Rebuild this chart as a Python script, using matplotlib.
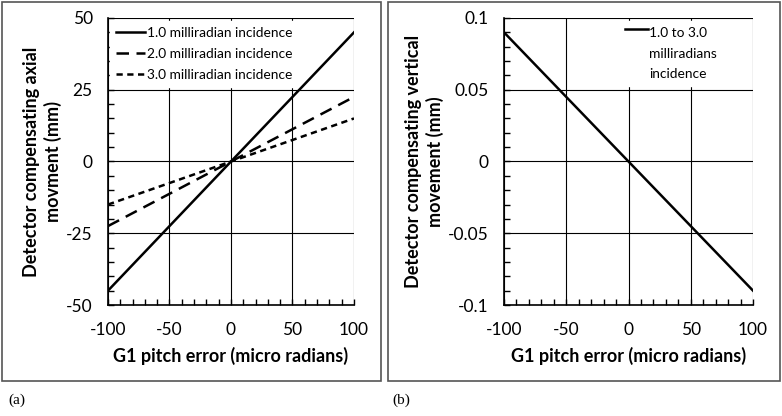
import matplotlib
matplotlib.use('Agg')
import matplotlib.pyplot as plt
from matplotlib.patches import Rectangle
from matplotlib.ticker import MultipleLocator, FuncFormatter

# data
pitch_error = [-100, -50, 0, 50, 100]
axial_1mrad = [-45, -22.5, 0, 22.5, 45]
axial_2mrad = [-22.5, -11.25, 0, 11.25, 22.5]
axial_3mrad = [-15, -7.5, 0, 7.5, 15]
vertical_all = [0.09, 0.045, 0, -0.045, -0.09]

plt.rcParams['font.family'] = ['Lato', 'DejaVu Sans']

fig = plt.figure(figsize=(7.82, 4.16), dpi=100)

# panel frames
for x0, w in [(2, 379), (388, 392)]:
    fig.patches.append(Rectangle((x0 / 782, 1 - 381 / 416), w / 782, 379 / 416,
                                 transform=fig.transFigure, fill=False,
                                 edgecolor='#555555', linewidth=1.2))

plain = FuncFormatter(lambda v, pos: '%g' % round(v, 6))


def style_axes(ax, ymin, ymax, ymajor, yminor):
    ax.set_xlim(-100, 100)
    ax.set_ylim(ymin, ymax)
    ax.xaxis.set_major_locator(MultipleLocator(50))
    ax.xaxis.set_minor_locator(MultipleLocator(10))
    ax.yaxis.set_major_locator(MultipleLocator(ymajor))
    ax.yaxis.set_minor_locator(MultipleLocator(yminor))
    ax.xaxis.set_major_formatter(plain)
    ax.yaxis.set_major_formatter(plain)
    for s in ['top', 'right']:
        ax.spines[s].set_visible(False)
    for s in ['left', 'bottom']:
        ax.spines[s].set_linewidth(1.2)
    ax.tick_params(which='both', direction='in', length=4, width=1, labelsize=12.5)
    ax.tick_params(axis='y', which='major', pad=11)
    ax.tick_params(axis='x', which='major', pad=12)
    ax.grid(True, which='major', color='black', linewidth=0.8)
    ax.set_axisbelow(True)
    ax.set_xlabel('G1 pitch error (micro radians)', fontsize=13, fontweight='bold', labelpad=7)


# (a) axial movement
ax1 = fig.add_axes([108 / 782, 1 - 305 / 416, 246 / 782, 287 / 416])
style_axes(ax1, -50, 50, 25, 5)
ax1.plot(pitch_error, axial_1mrad, color='black', linewidth=1.8, zorder=6,
         label='1.0 milliradian incidence')
ax1.plot(pitch_error, axial_2mrad, color='black', linewidth=1.8, dashes=(5, 3), zorder=6,
         label='2.0 milliradian incidence')
ax1.plot(pitch_error, axial_3mrad, color='black', linewidth=1.8, dashes=(2.5, 1.8), zorder=6,
         label='3.0 milliradian incidence')
ax1.set_ylabel('Detector compensating axial\nmovment (mm)', fontsize=13, fontweight='bold',
               linespacing=1.25, labelpad=3)
leg1 = ax1.legend(loc='upper left', bbox_to_anchor=(0.007, 0.99), fontsize=9.9, frameon=True,
                  fancybox=False, edgecolor='white', facecolor='white', framealpha=1,
                  handlelength=2.1, handletextpad=0.15, borderpad=0.45, labelspacing=0.64,
                  borderaxespad=0)
leg1.set_zorder(5)

# (b) vertical movement
ax2 = fig.add_axes([504 / 782, 1 - 305 / 416, 249 / 782, 287 / 416])
style_axes(ax2, -0.1, 0.1, 0.05, 0.01)
ax2.plot(pitch_error, vertical_all, color='black', linewidth=1.8, zorder=6,
         label='1.0 to 3.0\nmilliradians\nincidence')
ax2.set_ylabel('Detector compensating vertical\nmovement (mm)', fontsize=13, fontweight='bold',
               linespacing=1.25, labelpad=3)
leg2 = ax2.legend(loc='upper left', bbox_to_anchor=(0.46, 0.99), fontsize=9.9, frameon=True,
                  fancybox=False, edgecolor='white', facecolor='white', framealpha=1,
                  handlelength=1.7, handletextpad=0.1, borderpad=0.45, borderaxespad=0)
leg2.set_zorder(5)
leg2.get_texts()[0].set_linespacing(1.85)
# put the legend sample next to the first text line, as in the original
handle = leg2.get_lines()[0]
handle.set_ydata([y + 17.5 for y in handle.get_ydata()])

fig.text(8 / 782, 1 - 400 / 416, '(a)', family='Liberation Serif', fontsize=11, va='center')
fig.text(392 / 782, 1 - 400 / 416, '(b)', family='Liberation Serif', fontsize=11, va='center')

fig.savefig('out.png', dpi=100)
